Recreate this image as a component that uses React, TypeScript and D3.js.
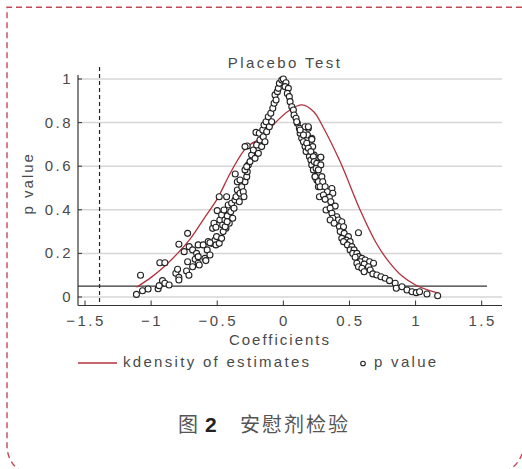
import * as d3 from 'd3';

// coefficient / p value pairs
const coefs = [
  -1.111, -1.08, -1.065, -1.023, -0.947, -0.939, -0.934, -0.896, -0.914, -0.896, -0.864,
  -0.813, -0.8, -0.79, -0.79, -0.79, -0.732, -0.714, -0.724, -0.724, -0.75, -0.712,
  -0.686, -0.686, -0.667, -0.656, -0.644, -0.644, -0.644, -0.636, -0.606, -0.593,
  -0.576, -0.568, -0.555, -0.586, -0.542, -0.517, -0.51, -0.485, -0.505, -0.535,
  -0.525, -0.51, -0.5, -0.485, -0.48, -0.467, -0.459, -0.449, -0.442, -0.434, -0.424,
  -0.417, -0.409, -0.398, -0.391, -0.383, -0.373, -0.366, -0.358, -0.348, -0.333,
  -0.328, -0.315, -0.303, -0.29, -0.298, -0.277, -0.265, -0.273, -0.364, -0.348,
  -0.429, -0.328, -0.29, -0.277, -0.273, -0.252, -0.24, -0.227, -0.214, -0.207,
  -0.202, -0.189, -0.182, -0.177, -0.164, -0.156, -0.152, -0.146, -0.139, -0.131,
  -0.126, -0.114, -0.106, -0.095, -0.088, -0.08, -0.07, -0.063, -0.055, -0.045,
  -0.038, -0.03, -0.012, 0, 0.02, 0.013, 0.038, 0.03, 0.045, 0.051, 0.064, 0.076,
  0.081, 0.096, 0.106, 0.121, 0.127, 0.139, 0.152, 0.164, 0.172, 0.182, 0.189, 0.197,
  0.208, 0.215, 0.227, 0.24, 0.253, 0.265, 0.273, 0.258, 0.164, 0.215, 0.222, 0.283,
  0.233, 0.253, 0.101, 0.189, 0.127, 0.152, 0.215, 0.177, 0.189, 0.208, 0.227, 0.283,
  0.233, 0.253, 0.283, 0.248, 0.265, 0.24, 0.291, 0.265, 0.298, 0.278, 0.316, 0.367,
  0.333, 0.374, 0.303, 0.348, 0.316, 0.359, 0.392, 0.323, 0.354, 0.367, 0.404, 0.374,
  0.354, 0.417, 0.384, 0.442, 0.424, 0.455, 0.568, 0.43, 0.46, 0.442, 0.492, 0.475,
  0.505, 0.455, 0.485, 0.518, 0.505, 0.535, 0.525, 0.556, 0.568, 0.543, 0.594, 0.619,
  0.581, 0.652, 0.556, 0.611, 0.682, 0.644, 0.568, 0.594, 0.657, 0.611, 0.677, 0.707,
  0.738, 0.77, 0.803, 0.846, 0.854, 0.897, 0.935, 0.973, 1.005, 1.03, 1.086, 1.167,
  -0.555, -0.467, -0.455, -0.44, -0.425, -0.29,
];
const pvalues = [
  0.012, 0.1, 0.029, 0.037, 0.038, 0.052, 0.157, 0.157, 0.075, 0.063, 0.055,
  0.109, 0.127, 0.09, 0.078, 0.242, 0.119, 0.1, 0.162, 0.292, 0.208, 0.231,
  0.216, 0.139, 0.173, 0.2, 0.239, 0.155, 0.185, 0.147, 0.239, 0.177,
  0.216, 0.254, 0.193, 0.167, 0.246, 0.261, 0.239, 0.246, 0.277, 0.315,
  0.338, 0.32, 0.396, 0.46, 0.353, 0.376, 0.33, 0.399, 0.353, 0.315, 0.372,
  0.422, 0.338, 0.391, 0.43, 0.361, 0.407, 0.445, 0.46, 0.491, 0.437,
  0.476, 0.506, 0.483, 0.529, 0.46, 0.552, 0.606, 0.575, 0.564, 0.529,
  0.46, 0.537, 0.583, 0.598, 0.693, 0.621, 0.651, 0.674, 0.636, 0.755,
  0.697, 0.659, 0.751, 0.72, 0.69, 0.766, 0.735, 0.789, 0.712, 0.804,
  0.758, 0.827, 0.781, 0.843, 0.804, 0.866, 0.889, 0.927, 0.904, 0.942,
  0.957, 0.98, 0.995, 1.0, 0.983, 0.965, 0.957, 0.934, 0.919, 0.896, 0.873, 0.858,
  0.835, 0.82, 0.797, 0.774, 0.751, 0.728, 0.712, 0.69, 0.667, 0.743, 0.774, 0.644,
  0.628, 0.606, 0.583, 0.552, 0.537, 0.506, 0.46, 0.636, 0.781, 0.728, 0.69, 0.641,
  0.651, 0.598, 0.804, 0.781, 0.766, 0.743, 0.723, 0.705, 0.682, 0.667, 0.644, 0.641,
  0.621, 0.613, 0.606, 0.59, 0.583, 0.552, 0.552, 0.529, 0.529, 0.506, 0.506, 0.498,
  0.483, 0.476, 0.468, 0.457, 0.448, 0.437, 0.417, 0.399, 0.407, 0.384, 0.368, 0.361,
  0.353, 0.353, 0.338, 0.345, 0.322, 0.322, 0.295, 0.3, 0.292, 0.269, 0.277, 0.261,
  0.254, 0.254, 0.239, 0.231, 0.216, 0.216, 0.2, 0.2, 0.185, 0.182, 0.177, 0.17,
  0.162, 0.162, 0.155, 0.151, 0.155, 0.139, 0.139, 0.132, 0.124, 0.116, 0.106, 0.101,
  0.093, 0.086, 0.075, 0.063, 0.04, 0.047, 0.032, 0.024, 0.02, 0.024, 0.014, 0.006,
  0.249, 0.269, 0.3, 0.322, 0.345, 0.69,
];

// kernel density of the estimates, drawn on the p value axis
const densityX = [
  -1.11, -1.0, -0.9, -0.8, -0.7, -0.6, -0.5, -0.4, -0.3, -0.25, -0.15, -0.06,
  0.05, 0.14, 0.23, 0.3, 0.43, 0.58, 0.7, 0.8, 0.9, 1.0, 1.1, 1.18,
];
const densityY = [
  0.045, 0.09, 0.14, 0.2, 0.27, 0.36, 0.45, 0.57, 0.67, 0.7, 0.735, 0.8,
  0.858, 0.881, 0.85, 0.78, 0.62, 0.4, 0.25, 0.16, 0.095, 0.055, 0.03, 0.017,
];

const xTicks = [-1.5, -1, -0.5, 0, 0.5, 1, 1.5];
const yTicks = [0, 0.2, 0.4, 0.6, 0.8, 1];
const trueCoef = -1.39;
const pThreshold = 0.05;

const W = 522;
const H = 469;
const plot = { left: 78, right: 502, top: 75, bottom: 305.5 };
const font = '"Liberation Sans", Arial, sans-serif';
const cjk = '"Noto Sans CJK SC", sans-serif';
const red = '#b3303c';
const textColor = '#4a4a4a';

const fmt = (v: number) => (v < 0 ? '\u2212' + String(-v) : String(v));

export default function App() {
  const x = d3.scaleLinear().domain([-1.5, 1.5]).range([85, 481.7]);
  const y = d3.scaleLinear().domain([0, 1]).range([297, 79]);

  const points = coefs.map((c, i) => [c, pvalues[i]] as [number, number]);
  const density = densityX.map((c, i) => [c, densityY[i]] as [number, number]);

  const line = d3
    .line<[number, number]>()
    .x(d => x(d[0]))
    .y(d => y(d[1]))
    .curve(d3.curveCatmullRom.alpha(0.5));

  // page frame: square top-left corner, rounded bottom corners, right side off the page
  const frameLeft = 'M 522 7.3 H 7 V 446 A 30 30 0 0 0 37 476';
  const frameRight = 'M 505 472 A 30 30 0 0 0 522 454';

  return (
    <svg
      width={W}
      height={H}
      style={{ position: 'absolute', left: 0, top: 0, background: '#fff', display: 'block' }}
      fontFamily={font}
    >
      <path d={frameLeft} fill="none" stroke="#c24a57" strokeWidth={1.4} strokeDasharray="6 4" />
      <path d={frameRight} fill="none" stroke="#c24a57" strokeWidth={1.4} strokeDasharray="6 4" />

      {/* gridlines */}
      {yTicks.map(t => (
        <line key={'g' + t} x1={plot.left} x2={plot.right} y1={y(t)} y2={y(t)} stroke="#d6d6d6" strokeWidth={1.5} />
      ))}

      {/* axes */}
      <line x1={plot.left} x2={plot.left} y1={plot.top} y2={plot.bottom} stroke="#333" strokeWidth={1.2} />
      <line x1={plot.left} x2={plot.right} y1={plot.bottom} y2={plot.bottom} stroke="#333" strokeWidth={1.2} />
      {yTicks.map(t => (
        <g key={'y' + t}>
          <line x1={plot.left} x2={plot.left + 4} y1={y(t)} y2={y(t)} stroke="#333" strokeWidth={1} />
          <text x={73} y={y(t) + 5} textAnchor="end" fontSize={15} fill={textColor} letterSpacing={2.5}>
            {String(t)}
          </text>
        </g>
      ))}
      {xTicks.map(t => (
        <g key={'x' + t}>
          <line x1={x(t)} x2={x(t)} y1={plot.bottom} y2={plot.bottom - 5} stroke="#333" strokeWidth={1} />
          <text x={x(t) + 1} y={326} textAnchor="middle" fontSize={15} fill={textColor} letterSpacing={2.5}>
            {fmt(t)}
          </text>
        </g>
      ))}

      {/* reference lines */}
      <line x1={x(trueCoef)} x2={x(trueCoef)} y1={67} y2={plot.bottom} stroke="#222" strokeWidth={1.2} strokeDasharray="4 3" />
      <line x1={plot.left} x2={487} y1={y(pThreshold)} y2={y(pThreshold)} stroke="#333" strokeWidth={1.2} />

      {/* kdensity */}
      <path d={line(density) ?? ''} fill="none" stroke={red} strokeWidth={1.3} />

      {/* p values */}
      {points.map((d, i) => (
        <circle key={i} cx={x(d[0])} cy={y(d[1])} r={3} fill="#fff" stroke="#222" strokeWidth={1.1} />
      ))}

      {/* titles */}
      <text x={285} y={68} textAnchor="middle" fontSize={15} fill={textColor} letterSpacing={2.4}>
        Placebo Test
      </text>
      <text x={280} y={345} textAnchor="middle" fontSize={15} fill={textColor} letterSpacing={2}>
        Coefficients
      </text>
      <text
        transform={`translate(33, ${(plot.top + plot.bottom) / 2 - 7}) rotate(-90)`}
        textAnchor="middle"
        fontSize={15}
        fill={textColor}
        letterSpacing={2}
      >
        p value
      </text>

      {/* legend */}
      <line x1={78} x2={117} y1={363} y2={363} stroke={red} strokeWidth={1.3} />
      <text x={123} y={367} fontSize={15} fill={textColor} letterSpacing={2.3}>
        kdensity of estimates
      </text>
      <circle cx={363} cy={363.5} r={2.3} fill="#fff" stroke="#222" strokeWidth={1.1} />
      <text x={374} y={367} fontSize={15} fill={textColor} letterSpacing={2.3}>
        p value
      </text>

      {/* caption */}
      <text x={178} y={432} fontSize={20} fill="#555" fontFamily={cjk}>
        图
      </text>
      <text x={205} y={432} fontSize={21} fontWeight="bold" fill="#222" fontFamily={font}>
        2
      </text>
      <text x={240} y={432} fontSize={20} fill="#555" fontFamily={cjk} letterSpacing={2}>
        安慰剂检验
      </text>
    </svg>
  );
}
